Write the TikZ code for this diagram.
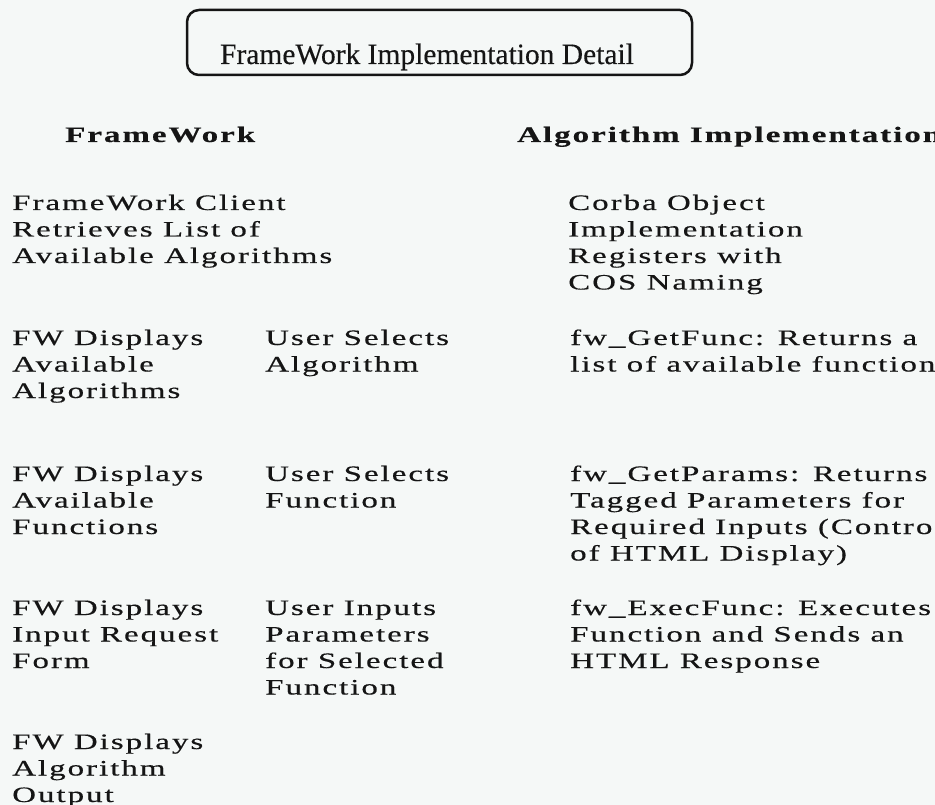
\documentclass[tikz,border=0pt]{standalone}
\usepackage{fontspec}
\setmainfont{Liberation Serif}
\newfontfamily\bodyfont{Liberation Serif}[FakeStretch=1.5, LetterSpace=9, FakeBold=0.4]
\newfontfamily\titlefont{Liberation Serif}[FakeBold=0.3]
\newcommand\mylines[1]{\begin{tabular}[t]{@{}l@{}}#1\end{tabular}}
\definecolor{bg}{HTML}{F5F8F7}
\definecolor{ink}{HTML}{151515}
\begin{document}
\begin{tikzpicture}[x=1pt,y=-1pt,
  txt/.style={anchor=base west, inner sep=0pt, text=ink, font=\bodyfont\fontsize{22}{26.5}\selectfont},
  hdr/.style={txt, font=\bodyfont\bfseries\fontsize{22}{26.5}\selectfont},
  titlebox/.style={draw=ink, line width=2.5pt, rounded corners=12pt, minimum width=505pt, minimum height=65pt, inner sep=0pt},
  titletext/.style={anchor=base, inner sep=0pt, text=ink, font=\titlefont\fontsize{29.5}{32}\selectfont}]
\useasboundingbox (0,0) rectangle (935,805);
\clip (0,0) rectangle (935,805);
\fill[bg] (0,0) rectangle (935,805);
\node[titlebox] (tbox) at (439.5,42.5) {};
\node[titletext] (title) at (427,64) {FrameWork Implementation Detail};
\node[hdr] (hfw) at (65,142) {FrameWork};
\node[hdr] (halg) at (517,142) {Algorithm Implementation};
\node[txt] (client) at (12,210) {\mylines{FrameWork Client\\Retrieves List of\\Available Algorithms}};
\node[txt] (corba) at (568,210) {\mylines{Corba Object\\Implementation\\Registers with\\COS Naming}};
\node[txt] (dalg) at (12,345) {\mylines{FW Displays\\Available\\Algorithms}};
\node[txt] (salg) at (265,345) {\mylines{User Selects\\Algorithm}};
\node[txt] (getfunc) at (570,345) {\mylines{fw\_GetFunc: Returns a\\list of available functions}};
\node[txt] (dfun) at (12,481) {\mylines{FW Displays\\Available\\Functions}};
\node[txt] (sfun) at (265,481) {\mylines{User Selects\\Function}};
\node[txt] (getpar) at (570,481) {\mylines{fw\_GetParams: Returns\\Tagged Parameters for\\Required Inputs (Control\\of HTML Display)}};
\node[txt] (dform) at (12,615) {\mylines{FW Displays\\Input Request\\Form}};
\node[txt] (uin) at (265,615) {\mylines{User Inputs\\Parameters\\for Selected\\Function}};
\node[txt] (exec) at (570,615) {\mylines{fw\_ExecFunc: Executes\\Function and Sends an\\HTML Response}};
\node[txt] (dout) at (12,749) {\mylines{FW Displays\\Algorithm\\Output}};
\end{tikzpicture}
\end{document}
